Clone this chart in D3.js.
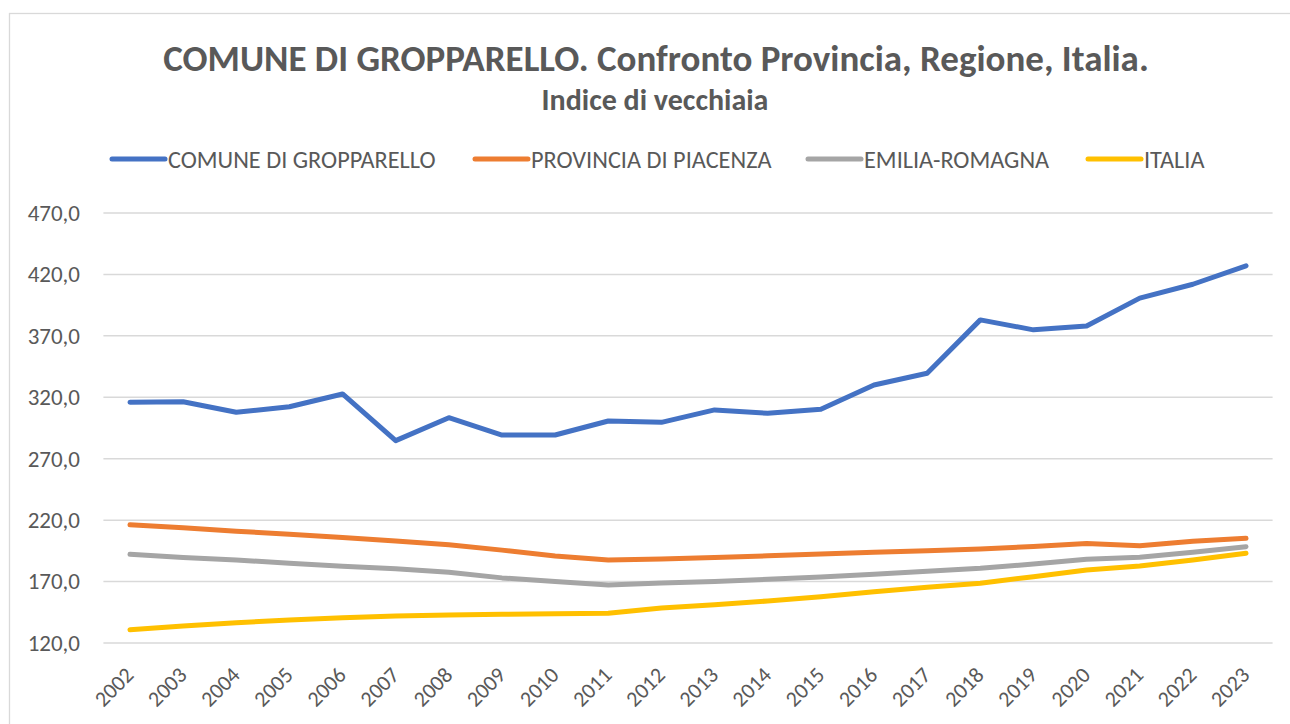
<!DOCTYPE html>
<html>
<head>
<meta charset="utf-8">
<script src="https://cdn.jsdelivr.net/npm/d3@7"></script>
<style>
  body { margin: 0; background: #fff; }
  text { font-family: Calibri, Carlito, "Liberation Sans", Arial, sans-serif; }
</style>
</head>
<body>
<script>
var w = 1290, h = 724;

// data
var years = ["2002","2003","2004","2005","2006","2007","2008","2009","2010","2011","2012",
             "2013","2014","2015","2016","2017","2018","2019","2020","2021","2022","2023"];
var comune = [315.9, 316.4, 307.8, 312.3, 322.7, 284.7, 303.4, 289.3, 289.3, 300.7, 299.6,
              309.7, 307.0, 310.3, 330.0, 339.6, 383.0, 374.9, 378.0, 400.7, 412.0, 427.0];
var provincia = [216.2, 213.8, 211.0, 208.5, 205.8, 203.0, 200.0, 195.6, 190.8, 187.6, 188.4,
                 189.6, 191.0, 192.4, 193.8, 195.0, 196.6, 198.6, 201.0, 199.2, 202.8, 205.2];
var regione = [192.2, 189.5, 187.5, 185.0, 182.5, 180.5, 177.5, 173.0, 170.0, 167.2, 168.8,
               170.0, 171.8, 173.8, 176.0, 178.4, 180.8, 184.3, 188.1, 189.8, 193.8, 198.4];
var italia = [130.8, 133.8, 136.5, 138.7, 140.6, 142.0, 142.8, 143.4, 143.8, 144.2, 148.5,
              151.2, 154.2, 157.7, 161.8, 165.3, 168.6, 174.0, 179.4, 182.7, 187.6, 193.0];
var seriesNames = ["COMUNE DI GROPPARELLO", "PROVINCIA DI PIACENZA", "EMILIA-ROMAGNA", "ITALIA"];
var seriesColors = ["#4472C4", "#ED7D31", "#A5A5A5", "#FFC000"];
var yTicks = [120, 170, 220, 270, 320, 370, 420, 470];

var series = [comune, provincia, regione, italia];

var plot = { left: 103.4, right: 1272.6, top: 213, bottom: 643 };
var fontStack = "Calibri, Carlito, 'Liberation Sans', Arial, sans-serif";

var svg = d3.select("body").append("svg")
  .attr("width", w)
  .attr("height", h);

// chart frame
svg.append("rect")
  .attr("x", 9.5).attr("y", 13.5)
  .attr("width", w + 10).attr("height", h + 10)
  .attr("fill", "#fff")
  .attr("stroke", "#d9d9d9")
  .attr("stroke-width", 1.3);

// titles
svg.append("text")
  .attr("x", 656).attr("y", 71)
  .attr("text-anchor", "middle")
  .attr("font-size", 37)
  .attr("font-weight", "bold")
  .attr("fill", "#595959")
  .text("COMUNE DI GROPPARELLO. Confronto Provincia, Regione, Italia.");

svg.append("text")
  .attr("x", 655).attr("y", 110)
  .attr("text-anchor", "middle")
  .attr("font-size", 30)
  .attr("font-weight", "bold")
  .attr("fill", "#595959")
  .text("Indice di vecchiaia");

var xScale = d3.scalePoint()
  .domain(years)
  .range([plot.left, plot.right])
  .padding(0.5);

var yScale = d3.scaleLinear()
  .domain([120, 470])
  .range([plot.bottom, plot.top]);

var locale = d3.formatLocale({ decimal: ",", thousands: ".", grouping: [3], currency: ["", "€"] });
var fmt = locale.format(".1f");

// gridlines
svg.append("g")
  .selectAll("line")
  .data(yTicks)
  .enter().append("line")
  .attr("x1", plot.left).attr("x2", plot.right)
  .attr("y1", function (d) { return yScale(d); })
  .attr("y2", function (d) { return yScale(d); })
  .attr("stroke", "#d9d9d9")
  .attr("stroke-width", 1.5);

// y axis labels
var yAxis = d3.axisLeft(yScale).tickValues(yTicks).tickFormat(fmt).tickSize(0).tickPadding(0);
svg.append("g")
  .attr("transform", "translate(80,0)")
  .call(yAxis)
  .call(function (g) {
    g.select(".domain").remove();
    g.selectAll(".tick text")
      .attr("font-size", 23)
      .attr("fill", "#595959")
      .style("font-family", fontStack);
  });

// x axis labels
var xAxis = d3.axisBottom(xScale).tickSize(0).tickPadding(0);
svg.append("g")
  .attr("transform", "translate(0," + plot.bottom + ")")
  .call(xAxis)
  .call(function (g) {
    g.select(".domain").remove();
    g.selectAll(".tick text")
      .attr("font-size", 22)
      .attr("fill", "#595959")
      .style("font-family", fontStack)
      .attr("text-anchor", "end")
      .attr("dy", "0.35em")
      .attr("transform", "translate(-1,28) rotate(-45)");
  });

// lines
var line = d3.line()
  .x(function (d, i) { return xScale(years[i]); })
  .y(function (d) { return yScale(d); });

svg.append("g")
  .selectAll("path")
  .data(series)
  .enter().append("path")
  .attr("d", line)
  .attr("fill", "none")
  .attr("stroke", function (d, i) { return seriesColors[i]; })
  .attr("stroke-width", 5)
  .attr("stroke-linejoin", "round")
  .attr("stroke-linecap", "round");

// legend
var legendX = [112, 475, 808, 1088];
var legend = svg.append("g")
  .selectAll("g")
  .data(seriesNames)
  .enter().append("g")
  .attr("transform", function (d, i) { return "translate(" + legendX[i] + ",159)"; });

legend.append("line")
  .attr("x1", 0).attr("x2", 53)
  .attr("stroke", function (d, i) { return seriesColors[i]; })
  .attr("stroke-width", 5)
  .attr("stroke-linecap", "round");

legend.append("text")
  .attr("x", 56)
  .attr("dy", "0.35em")
  .attr("font-size", 24.3)
  .attr("fill", "#595959")
  .text(function (d) { return d; });
</script>
</body>
</html>
